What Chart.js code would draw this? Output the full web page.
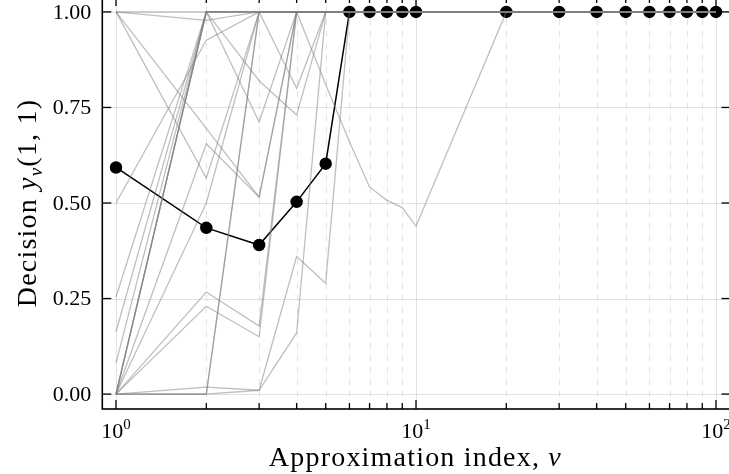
<!DOCTYPE html>
<html>
<head>
<meta charset="utf-8">
<script src="https://cdn.jsdelivr.net/npm/chart.js@4.4.1/dist/chart.umd.min.js"></script>
<style>
  html, body { margin: 0; padding: 0; background: #fff; width: 729px; height: 474px; overflow: hidden; }
  #wrap { position: absolute; left: 0; top: -10px; width: 760px; height: 490px; }
</style>
</head>
<body>
<div id="wrap"><canvas id="decisionChart" width="760" height="490"></canvas></div>
<script>
// approximation index nu
const nu = [1, 2, 3, 4, 5, 6, 7, 8, 9, 10, 20, 30, 40, 50, 60, 70, 80, 90, 100];

// highlighted decision y_nu(1,1)
const decision = [0.593, 0.435, 0.39, 0.503, 0.603, 1, 1, 1, 1, 1, 1, 1, 1, 1, 1, 1, 1, 1, 1];

// individual runs, drawn faint behind
const runs = [
  [1, 1, 1, 1, 1, 1, 1, 1, 1, 1, 1, 1, 1, 1, 1, 1, 1, 1, 1],
  [1, 0.978, 1, 1, 1, 1, 1, 1, 1, 1, 1, 1, 1, 1, 1, 1, 1, 1, 1],
  [1, 0.565, 1, 1, 1, 1, 1, 1, 1, 1, 1, 1, 1, 1, 1, 1, 1, 1, 1],
  [1, 0.695, 0.515, 1, 1, 1, 1, 1, 1, 1, 1, 1, 1, 1, 1, 1, 1, 1, 1],
  [0, 0.655, 0.515, 1, 1, 1, 1, 1, 1, 1, 1, 1, 1, 1, 1, 1, 1, 1, 1],
  [0.5, 0.926, 1, 1, 1, 1, 1, 1, 1, 1, 1, 1, 1, 1, 1, 1, 1, 1, 1],
  [0, 1, 0.712, 1, 1, 1, 1, 1, 1, 1, 1, 1, 1, 1, 1, 1, 1, 1, 1],
  [0, 1, 0.82, 0.73, 1, 1, 1, 1, 1, 1, 1, 1, 1, 1, 1, 1, 1, 1, 1],
  [0.254, 1, 1, 0.8, 1, 1, 1, 1, 1, 1, 1, 1, 1, 1, 1, 1, 1, 1, 1],
  [0.163, 1, 1, 1, 0.81, 0.66, 0.542, 0.507, 0.488, 0.439, 1, 1, 1, 1, 1, 1, 1, 1, 1],
  [0, 0.267, 0.178, 1, 1, 1, 1, 1, 1, 1, 1, 1, 1, 1, 1, 1, 1, 1, 1],
  [0, 0.23, 0.15, 1, 1, 1, 1, 1, 1, 1, 1, 1, 1, 1, 1, 1, 1, 1, 1],
  [0, 0, 1, 1, 1, 1, 1, 1, 1, 1, 1, 1, 1, 1, 1, 1, 1, 1, 1],
  [0, 0, 1, 1, 1, 1, 1, 1, 1, 1, 1, 1, 1, 1, 1, 1, 1, 1, 1],
  [0, 0.018, 0.01, 0.16, 1, 1, 1, 1, 1, 1, 1, 1, 1, 1, 1, 1, 1, 1, 1],
  [0, 0, 0.01, 0.36, 0.29, 1, 1, 1, 1, 1, 1, 1, 1, 1, 1, 1, 1, 1, 1],
  [0.081, 1, 1, 1, 1, 1, 1, 1, 1, 1, 1, 1, 1, 1, 1, 1, 1, 1, 1],
  [0, 1, 1, 1, 1, 1, 1, 1, 1, 1, 1, 1, 1, 1, 1, 1, 1, 1, 1],
  [0, 1, 1, 1, 1, 1, 1, 1, 1, 1, 1, 1, 1, 1, 1, 1, 1, 1, 1],
  [0, 0.5, 1, 1, 1, 1, 1, 1, 1, 1, 1, 1, 1, 1, 1, 1, 1, 1, 1]
];

const yTicks = [0, 0.25, 0.5, 0.75, 1];
const xMajor = [1, 10, 100];
const xMinor = [2, 3, 4, 5, 6, 7, 8, 9, 20, 30, 40, 50, 60, 70, 80, 90];

const SERIF = '"Liberation Serif", "DejaVu Serif", serif';

// write a sequence of differently styled pieces, centred on (x, y)
function drawPieces(ctx, pieces, x, y, spacing) {
  ctx.letterSpacing = (spacing || 0) + 'px';
  let total = 0;
  pieces.forEach(p => { ctx.font = p.font; p.w = ctx.measureText(p.text).width; total += p.w; });
  let cx = x - total / 2;
  pieces.forEach(p => {
    ctx.font = p.font;
    ctx.fillText(p.text, cx, y + (p.dy || 0));
    cx += p.w;
  });
  ctx.letterSpacing = '0px';
}

const framePlugin = {
  id: 'frame',
  beforeDatasetsDraw(chart) {
    const { ctx, chartArea: a, scales: { x, y } } = chart;
    ctx.save();
    ctx.beginPath();
    ctx.rect(a.left, a.top, a.right - a.left, a.bottom - a.top);
    ctx.clip();
    ctx.strokeStyle = 'rgba(0,0,0,0.11)';
    ctx.lineWidth = 1;
    yTicks.forEach(v => {
      const py = Math.round(y.getPixelForValue(v)) + 0.5;
      ctx.beginPath(); ctx.moveTo(a.left, py); ctx.lineTo(a.right, py); ctx.stroke();
    });
    xMajor.forEach(v => {
      const px = Math.round(x.getPixelForValue(v)) + 0.5;
      ctx.beginPath(); ctx.moveTo(px, a.top); ctx.lineTo(px, a.bottom); ctx.stroke();
    });
    ctx.setLineDash([6, 6]);
    xMinor.forEach(v => {
      const px = Math.round(x.getPixelForValue(v)) + 0.5;
      ctx.beginPath(); ctx.moveTo(px, a.bottom); ctx.lineTo(px, a.top); ctx.stroke();
    });
    ctx.restore();
  },
  afterDatasetsDraw(chart) {
    const { ctx, chartArea: a, scales: { x, y } } = chart;
    ctx.save();
    ctx.strokeStyle = '#000';
    ctx.lineWidth = 1.6;
    ctx.strokeRect(a.left, a.top, a.right - a.left, a.bottom - a.top);

    // inward ticks on all four sides
    ctx.lineWidth = 1.3;
    const tick = (x1, y1, x2, y2) => { ctx.beginPath(); ctx.moveTo(x1, y1); ctx.lineTo(x2, y2); ctx.stroke(); };
    yTicks.forEach(v => {
      const py = y.getPixelForValue(v);
      tick(a.left, py, a.left + 9, py);
      tick(a.right, py, a.right - 9, py);
    });
    xMajor.forEach(v => {
      const px = x.getPixelForValue(v);
      tick(px, a.bottom, px, a.bottom - 9);
      tick(px, a.top, px, a.top + 9);
    });
    xMinor.forEach(v => {
      const px = x.getPixelForValue(v);
      tick(px, a.bottom, px, a.bottom - 6);
      tick(px, a.top, px, a.top + 6);
    });

    ctx.fillStyle = '#000';

    // y tick labels
    ctx.font = '22px ' + SERIF;
    ctx.textAlign = 'right';
    ctx.textBaseline = 'middle';
    yTicks.forEach(v => {
      ctx.fillText(v.toFixed(2), a.left - 11, y.getPixelForValue(v) + 1);
    });

    // x tick labels 10^k
    ctx.textAlign = 'left';
    ctx.textBaseline = 'alphabetic';
    xMajor.forEach((v, k) => {
      const px = x.getPixelForValue(v);
      drawPieces(ctx, [
        { text: '10', font: '22px ' + SERIF },
        { text: String(k), font: '15px ' + SERIF, dy: -9 }
      ], px, a.bottom + 29);
    });

    // axis titles
    drawPieces(ctx, [
      { text: 'Approximation index, ', font: '28px ' + SERIF },
      { text: 'ν', font: 'italic 28px ' + SERIF }
    ], (a.left + a.right) / 2 - 1, a.bottom + 57, 1.2);

    ctx.save();
    ctx.translate(36, (a.top + a.bottom) / 2);
    ctx.rotate(-Math.PI / 2);
    drawPieces(ctx, [
      { text: 'Decision ', font: '28px ' + SERIF },
      { text: 'y', font: 'italic 28px ' + SERIF },
      { text: 'ν', font: 'italic 19px ' + SERIF, dy: 6 },
      { text: '(1, 1)', font: '28px ' + SERIF }
    ], 0, 0, 1.2);
    ctx.restore();
    ctx.restore();
  }
};

const datasets = runs.map(r => ({
  data: r,
  borderColor: 'rgba(128,128,128,0.5)',
  borderWidth: 1.3,
  pointRadius: 0,
  tension: 0
}));
datasets.push({
  data: decision,
  borderColor: '#000',
  borderWidth: 1.5,
  pointRadius: 5.5,
  pointBackgroundColor: '#000',
  pointBorderColor: '#000',
  tension: 0
});

new Chart(document.getElementById('decisionChart'), {
  type: 'line',
  data: { labels: nu, datasets },
  options: {
    responsive: false,
    devicePixelRatio: 1,
    animation: false,
    events: [],
    layout: { padding: { top: 6.6, right: 29.5, left: 0, bottom: 0 } },
    plugins: { legend: { display: false }, tooltip: { enabled: false } },
    scales: {
      x: {
        type: 'logarithmic',
        min: Math.pow(10, -13.7 / 300),
        max: Math.pow(10, 2 + 14.5 / 300),
        grid: { display: false },
        border: { display: false },
        ticks: { display: false },
        afterFit(scale) { scale.height = 71; }
      },
      y: {
        min: -0.039,
        max: 1.039,
        grid: { display: false },
        border: { display: false },
        ticks: { display: false },
        afterFit(scale) { scale.width = 102.3; }
      }
    }
  },
  plugins: [framePlugin]
});
</script>
</body>
</html>
